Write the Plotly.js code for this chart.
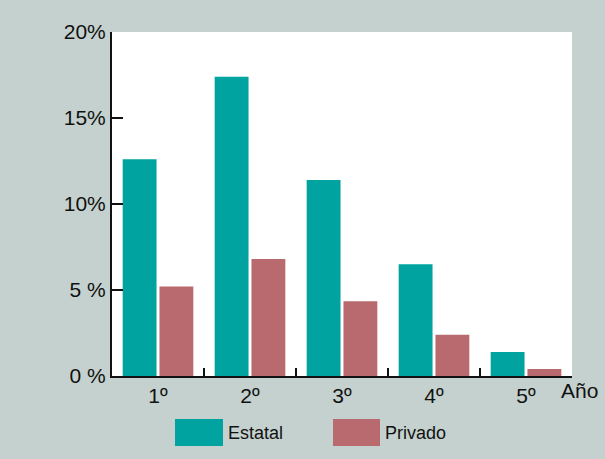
<!DOCTYPE html>
<html><head><meta charset="utf-8">
<script src="https://cdn.plot.ly/plotly-3.0.1.min.js"></script>
<style>html,body{margin:0;padding:0;background:#c5d1ce;}</style>
</head><body><div id="chart" style="width:605px;height:459px;"></div>
<script>
const categories = ["1º", "2º", "3º", "4º", "5º"];
const estatal = [12.6, 17.4, 11.4, 6.5, 1.4];
const privado = [5.2, 6.8, 4.35, 2.4, 0.4];
const yTickVals = [0, 5, 10, 15, 20];
const yTickText = ["0 %", "5 %", "10%", "15%", "20%"];

const teal = "#00a3a0", rose = "#b86a6f", bg = "#c5d1ce";
const font = "Liberation Sans, Arial, sans-serif";

const data = [
  {type: "bar", name: "Estatal", x: categories, y: estatal, marker: {color: teal}, hoverinfo: "none"},
  {type: "bar", name: "Privado", x: categories, y: privado, marker: {color: rose}, hoverinfo: "none"}
];

const layout = {
  width: 605, height: 459,
  paper_bgcolor: bg, plot_bgcolor: "#ffffff",
  margin: {l: 112, r: 33, t: 32, b: 83},
  showlegend: false,
  barmode: "group", bargap: 0.2, bargroupgap: 0.08,
  font: {family: font, color: "#111", size: 21},
  xaxis: {
    type: "category", range: [-0.5, 4.5],
    showline: true, linecolor: "#111", linewidth: 2,
    ticks: "inside", tickson: "boundaries", ticklen: 8, tickwidth: 2, tickcolor: "#111",
    showgrid: false, zeroline: false,
    tickfont: {family: font, size: 21, color: "#111"}
  },
  yaxis: {
    range: [0, 20], tickvals: yTickVals, ticktext: yTickText,
    showline: true, linecolor: "#111", linewidth: 2,
    ticks: "inside", ticklen: 11, tickwidth: 2, tickcolor: "#111",
    showgrid: false, zeroline: false,
    tickfont: {family: font, size: 21, color: "#111"}
  },
  shapes: [
    {type: "rect", xref: "paper", yref: "paper", x0: 63/460, x1: 111/460, y0: -43/344, y1: -70/344, fillcolor: teal, line: {width: 0}},
    {type: "rect", xref: "paper", yref: "paper", x0: 221/460, x1: 268/460, y0: -43/344, y1: -70/344, fillcolor: rose, line: {width: 0}}
  ],
  annotations: [
    {text: "Año", xref: "paper", yref: "paper", x: 1.0, y: 0, xanchor: "left", yanchor: "top", xshift: -13, yshift: -1, showarrow: false, font: {family: font, size: 21, color: "#111"}},
    {text: "Estatal", xref: "paper", yref: "paper", x: 114/460, y: -57/344, xanchor: "left", yanchor: "middle", showarrow: false, font: {family: font, size: 18, color: "#111"}},
    {text: "Privado", xref: "paper", yref: "paper", x: 271/460, y: -57/344, xanchor: "left", yanchor: "middle", showarrow: false, font: {family: font, size: 18, color: "#111"}}
  ]
};

Plotly.newPlot("chart", data, layout, {displayModeBar: false, staticPlot: true});
</script></body></html>
